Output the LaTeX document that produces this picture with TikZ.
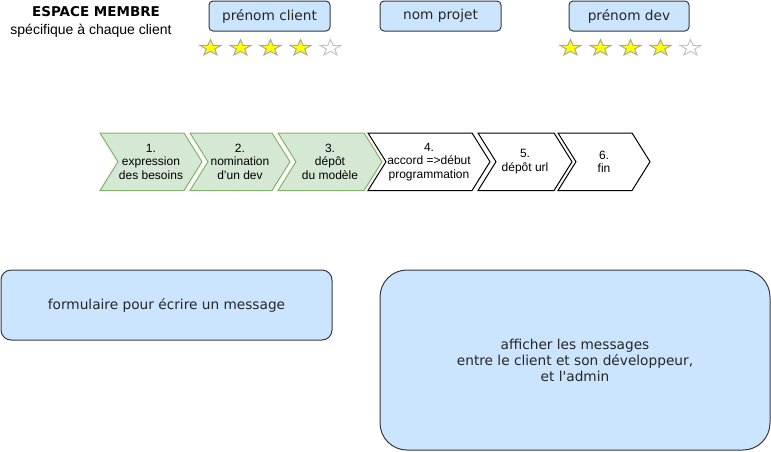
\documentclass[tikz,border=0pt]{standalone}
\usepackage{fontspec}
\setmainfont{Liberation Sans}
\newfontfamily\verdana{DejaVu Sans}
\usetikzlibrary{shapes.geometric,shapes.symbols}
\definecolor{bleu}{HTML}{CCE5FF}
\definecolor{bordbleu}{HTML}{36393D}
\definecolor{vert}{HTML}{D5E8D4}
\definecolor{bordvert}{HTML}{82B366}
\definecolor{jaune}{HTML}{FFFF00}
\definecolor{grisplein}{HTML}{A8A8A8}
\definecolor{grisvide}{HTML}{C4C4C4}
\tikzset{
  boite/.style={rectangle, draw=bordbleu, fill=bleu, line width=1pt, rounded corners=4pt,
                minimum width=121pt, minimum height=30pt, inner sep=0pt, align=center,
                font=\verdana\fontsize{13.7}{16}\selectfont, text=black!85},
  etape/.style={signal, signal from=west, signal to=east, signal pointer angle=116,
                line width=1pt, minimum height=57.5pt, inner sep=1pt, align=center,
                font=\fontsize{12}{13.5}\selectfont},
  fait/.style={etape, draw=bordvert, fill=vert},
  afaire/.style={etape, draw=black, fill=white},
  etoile/.style={star, star points=5, star point ratio=2.5, minimum size=17pt,
                 inner sep=0pt, xscale=1.3, line width=1pt, draw=grisplein, fill=jaune},
  vide/.style={etoile, draw=grisvide, fill=white},
  titre/.style={font=\verdana\bfseries\fontsize{13.5}{16}\selectfont, inner sep=0pt},
  soustitre/.style={font=\fontsize{14}{16}\selectfont, inner sep=0pt}
}

\begin{document}
\begin{tikzpicture}[x=1pt,y=-1pt]
\useasboundingbox (0,0) rectangle (771,451);

\node[titre] (titre) at (96,12) {ESPACE MEMBRE};
\node[soustitre] (soustitre) at (91,31) {spécifique à chaque client};

\node[boite] (prenomclient) at (269.5,16) {prénom client};
\node[boite] (nomprojet) at (440.5,16) {nom projet};
\node[boite, minimum width=120pt] (prenomdev) at (629,16) {prénom dev};

% notes client
\node[etoile] (c1) at (210.5,48) {};
\node[etoile] (c2) at (240.5,48) {};
\node[etoile] (c3) at (270.5,48) {};
\node[etoile] (c4) at (300.5,48) {};
\node[vide] (c5) at (330.5,48) {};
% notes dev
\node[etoile] (d1) at (570.5,48) {};
\node[etoile] (d2) at (600.5,48) {};
\node[etoile] (d3) at (630.5,48) {};
\node[etoile] (d4) at (660.5,48) {};
\node[vide] (d5) at (690.5,48) {};

\node[fait, minimum width=102pt] (etape1) at (151,161.75) {1.\\expression\\des besoins};
\node[fait, minimum width=100pt] (etape2) at (240,161.75) {2.\\nomination\\d'un dev};
\node[fait, minimum width=104pt] (etape3) at (330,161.75) {3.\\dépôt\\du modèle};
\node[afaire, minimum width=122pt] (etape4) at (429,161.75) {4.\\accord =>début\\programmation};
\node[afaire, minimum width=94pt] (etape5) at (525,161.75) {5.\\dépôt url};
\node[afaire, minimum width=92pt] (etape6) at (604,161.75) {6.\\fin};

\node[boite, minimum width=331pt, minimum height=70pt, rounded corners=10pt] (formulaire)
  at (166.5,305) {formulaire pour écrire un message};
\node[boite, minimum width=390pt, minimum height=180pt, rounded corners=27pt] (messages)
  at (575,360) {afficher les messages\\entre le client et son développeur,\\et l'admin};
\end{tikzpicture}
\end{document}
